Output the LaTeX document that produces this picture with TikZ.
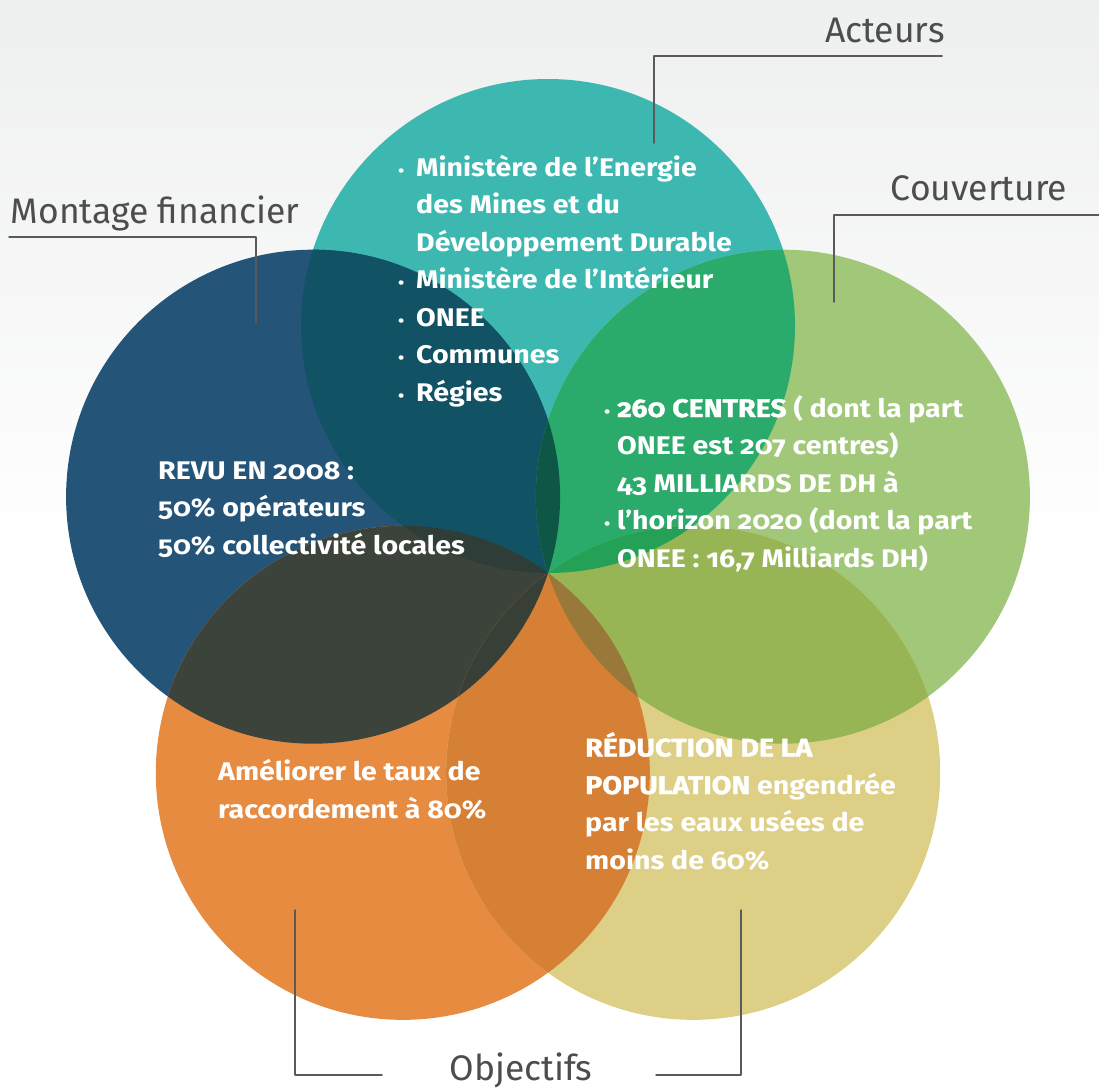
\documentclass[tikz,border=0pt]{standalone}
\usepackage{fontspec}
\setmainfont{Fira Sans}
\newfontfamily\blockfont{Fira Sans}[Numbers=OldStyle,FakeStretch=1.12]
\definecolor{bggray}{HTML}{EEEFEF}
\definecolor{labelgray}{HTML}{4D4D4F}
\definecolor{linegray}{HTML}{5A5A5C}
\definecolor{tealc}{HTML}{3DB8B1}
\definecolor{bluec}{HTML}{245579}
\definecolor{greenc}{HTML}{A1C779}
\definecolor{orangec}{HTML}{E78B41}
\definecolor{yellowc}{HTML}{DDD086}
\definecolor{tealblue}{HTML}{115264}
\definecolor{tealgreen}{HTML}{2BAB6B}
\definecolor{blueorange}{HTML}{3C433A}
\definecolor{greenyellow}{HTML}{98B556}
\definecolor{orangeyellow}{HTML}{D58035}
\definecolor{bluegreen}{HTML}{0E5646}
\definecolor{orangegreen}{HTML}{99793A}
\definecolor{tealorange}{HTML}{2F3D39}
\definecolor{tealyellow}{HTML}{24A156}
\definecolor{blueyellow}{HTML}{383F37}
\newcommand\R{247}
\newcommand\vennlens[3]{\begin{scope}\clip (#1) circle[radius=\R];\fill[#3] (#2) circle[radius=\R];\end{scope}}
\newcommand\venntriple[4]{\begin{scope}\clip (#1) circle[radius=\R];\clip (#2) circle[radius=\R];\fill[#4] (#3) circle[radius=\R];\end{scope}}
\tikzset{
  label/.style={text=labelgray,font=\fontsize{35.5}{40}\selectfont,inner sep=0},
  leader/.style={draw=linegray,line width=1.5pt},
  blocktext/.style={text=white,font=\blockfont\fontsize{25.5}{37.5}\selectfont\bfseries,align=left,inner sep=0,anchor=base west},
}
\newcommand\bul[1][12pt]{\llap{\fontsize{16}{16}\selectfont\textbullet\hspace{#1}}}
\newcommand\heavy[1]{{\addfontfeature{FakeBold=1.3}#1}}
\begin{document}
\begin{tikzpicture}[line cap=round,line join=round,x=1pt,y=-1pt]
	\useasboundingbox (0,0) rectangle (1099,1088);
	\fill[white] (0,0) rectangle (1099,1088);
	\shade[top color=bggray,bottom color=white] (0,0) rectangle (1099,560);
	% circles
	\coordinate (P) at (548,573);
	\foreach \n/\a in {T/-90,B/198,G/-18,O/126,Y/54}
		\path (P) ++(\a:\R) coordinate (\n);
	\fill[tealc] (T) circle[radius=\R];
	\fill[bluec] (B) circle[radius=\R];
	\fill[greenc] (G) circle[radius=\R];
	\fill[orangec] (O) circle[radius=\R];
	\fill[yellowc] (Y) circle[radius=\R];
	% overlaps
	\vennlens{T}{B}{tealblue}
	\vennlens{T}{G}{tealgreen}
	\vennlens{B}{O}{blueorange}
	\vennlens{G}{Y}{greenyellow}
	\vennlens{O}{Y}{orangeyellow}
	\venntriple{T}{B}{G}{bluegreen}
	\venntriple{Y}{O}{G}{orangegreen}
	\venntriple{B}{T}{O}{tealorange}
	\venntriple{G}{T}{Y}{tealyellow}
	\venntriple{O}{B}{Y}{blueyellow}
	% texts (anchored at the last line's baseline)
	\node[blocktext] (acteurslist) at (416,401) {\bul Ministère de l’Energie\\des Mines et du\\Développement Durable\\\bul Ministère de l’Intérieur\\\bul ONEE\\\bul Communes\\\bul Régies};
	\node[blocktext] (montagetext) at (158,554) {REVU EN 2008 :\\50\% opérateurs\\50\% collectivité locales};
	\node[blocktext] (couverturetext) at (617,567) {\bul[7pt]\heavy{260 CENTRES} ( dont la part\\ONEE est 207 centres)\\43 MILLIARDS DE DH à\\\bul[7pt]l’horizon 2020 (dont la part\\ONEE : 16,7 Milliards DH)};
	\node[blocktext] (objectif1) at (218,818) {Améliorer le taux de\\raccordement à 80\%};
	\node[blocktext] (objectif2) at (585,869) {\heavy{RÉDUCTION DE LA}\\\heavy{POPULATION} engendrée\\par les eaux usées de\\moins de 60\%};
	% labels
	\node[label,anchor=base] (acteurs) at (885,42) {Acteurs};
	\node[label,anchor=base] (couverture) at (979,200) {Couverture};
	\node[label,anchor=base] (montage) at (155,223) {Montage financier};
	\node[label,anchor=base] (objectifs) at (521,1080) {Objectifs};
	\coordinate (a1) at (942,56); \coordinate (a2) at (654,56); \coordinate (a3) at (654,143);
	\coordinate (c1) at (1099,215); \coordinate (c2) at (834,215); \coordinate (c3) at (834,302);
	\coordinate (m1) at (9,237); \coordinate (m2) at (256,237); \coordinate (m3) at (256,323);
	\coordinate (o1) at (382,1075); \coordinate (o2) at (295,1075); \coordinate (o3) at (295,910);
	\coordinate (o4) at (656,1075); \coordinate (o5) at (741,1075); \coordinate (o6) at (741,910);
	\draw[leader] (a1) -- (a2) -- (a3);
	\draw[leader] (c1) -- (c2) -- (c3);
	\draw[leader] (m1) -- (m2) -- (m3);
	\draw[leader] (o1) -- (o2) -- (o3);
	\draw[leader] (o4) -- (o5) -- (o6);
\end{tikzpicture}
\end{document}
